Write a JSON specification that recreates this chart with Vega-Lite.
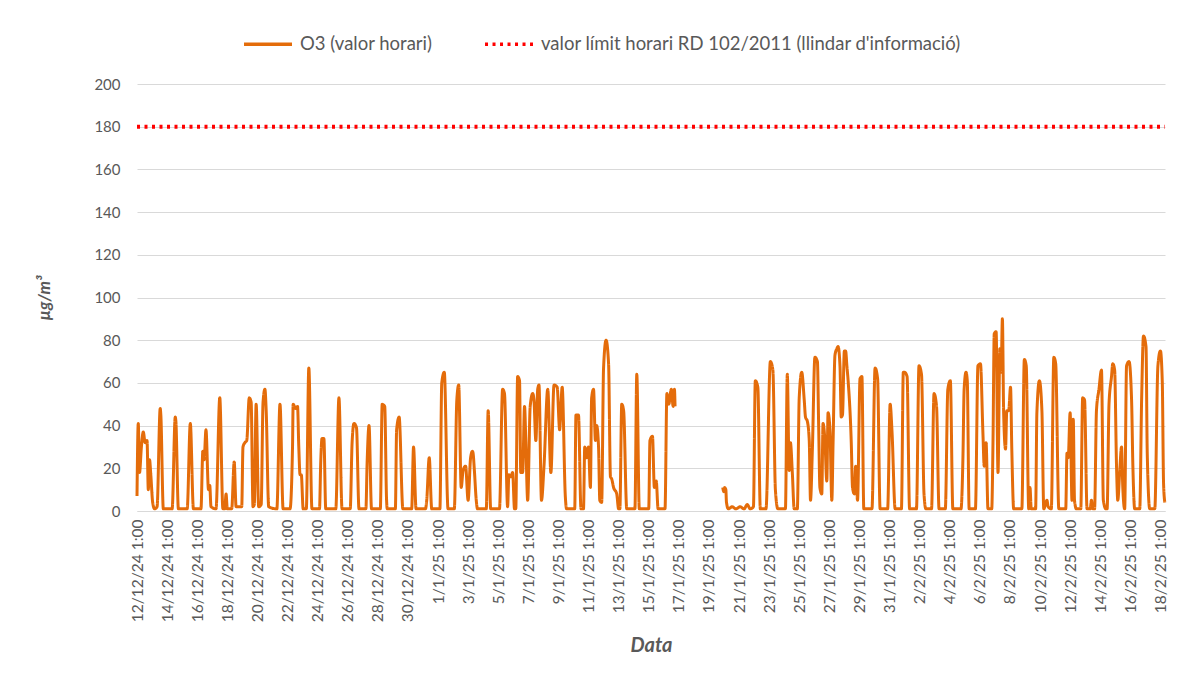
{
  "$schema": "https://vega.github.io/schema/vega-lite/v6.json",
  "autosize": {"type": "none"},
  "width": 1028,
  "height": 427,
  "padding": {"left": 137, "top": 84, "right": 19, "bottom": 170},
  "background": "white",
  "config": {
    "view": {"stroke": null},
    "font": "Lato",
    "axis": {"labelFont": "Lato", "titleFont": "Lato", "labelColor": "#595959", "titleColor": "#595959"},
    "legend": {"labelFont": "Lato"}
  },
  "datasets": {
    "o3": [
      {"t":"2024-12-12T01:00","v":7,"g":1},{"t":"2024-12-12T03:00","v":41,"g":1},{"t":"2024-12-12T05:00","v":18,"g":1},{"t":"2024-12-12T08:00","v":30,"g":1},{"t":"2024-12-12T11:00","v":37,"g":1},{"t":"2024-12-12T14:00","v":32,"g":1},{"t":"2024-12-12T17:00","v":33,"g":1},{"t":"2024-12-12T19:00","v":10,"g":1},{"t":"2024-12-12T21:00","v":24,"g":1},{"t":"2024-12-12T23:00","v":17,"g":1},
      {"t":"2024-12-13T02:00","v":4,"g":1},{"t":"2024-12-13T05:00","v":1,"g":1},{"t":"2024-12-13T09:00","v":2,"g":1},{"t":"2024-12-13T14:00","v":48,"g":1},{"t":"2024-12-13T15:00","v":45,"g":1},{"t":"2024-12-13T19:00","v":1,"g":1},
      {"t":"2024-12-14T09:00","v":1,"g":1},{"t":"2024-12-14T14:00","v":44,"g":1},{"t":"2024-12-14T15:00","v":42,"g":1},{"t":"2024-12-14T19:00","v":1,"g":1},
      {"t":"2024-12-15T09:00","v":1,"g":1},{"t":"2024-12-15T14:00","v":41,"g":1},{"t":"2024-12-15T19:00","v":1,"g":1},
      {"t":"2024-12-16T07:00","v":1,"g":1},{"t":"2024-12-16T10:00","v":28,"g":1},{"t":"2024-12-16T12:00","v":24,"g":1},{"t":"2024-12-16T15:00","v":38,"g":1},{"t":"2024-12-16T19:00","v":10,"g":1},{"t":"2024-12-16T21:00","v":12,"g":1},{"t":"2024-12-16T23:00","v":2,"g":1},
      {"t":"2024-12-17T07:00","v":1,"g":1},{"t":"2024-12-17T13:00","v":53,"g":1},{"t":"2024-12-17T18:00","v":1,"g":1},{"t":"2024-12-17T21:00","v":1,"g":1},{"t":"2024-12-17T23:00","v":8,"g":1},
      {"t":"2024-12-18T01:00","v":1,"g":1},{"t":"2024-12-18T08:00","v":1,"g":1},{"t":"2024-12-18T12:00","v":23,"g":1},{"t":"2024-12-18T15:00","v":2,"g":1},
      {"t":"2024-12-19T00:00","v":2,"g":1},{"t":"2024-12-19T02:00","v":30,"g":1},{"t":"2024-12-19T05:00","v":32,"g":1},{"t":"2024-12-19T08:00","v":33,"g":1},{"t":"2024-12-19T12:00","v":53,"g":1},{"t":"2024-12-19T15:00","v":51,"g":1},{"t":"2024-12-19T18:00","v":2,"g":1},{"t":"2024-12-19T20:00","v":3,"g":1},{"t":"2024-12-19T23:00","v":50,"g":1},
      {"t":"2024-12-20T03:00","v":2,"g":1},{"t":"2024-12-20T07:00","v":3,"g":1},{"t":"2024-12-20T10:00","v":51,"g":1},{"t":"2024-12-20T13:00","v":57,"g":1},{"t":"2024-12-20T15:00","v":47,"g":1},{"t":"2024-12-20T19:00","v":2,"g":1},
      {"t":"2024-12-21T08:00","v":1,"g":1},{"t":"2024-12-21T13:00","v":50,"g":1},{"t":"2024-12-21T18:00","v":1,"g":1},
      {"t":"2024-12-22T05:00","v":1,"g":1},{"t":"2024-12-22T09:00","v":30,"g":1},{"t":"2024-12-22T10:00","v":50,"g":1},{"t":"2024-12-22T14:00","v":48,"g":1},{"t":"2024-12-22T17:00","v":49,"g":1},{"t":"2024-12-22T19:00","v":30,"g":1},{"t":"2024-12-22T21:00","v":17,"g":1},{"t":"2024-12-22T23:00","v":17,"g":1},
      {"t":"2024-12-23T02:00","v":1,"g":1},{"t":"2024-12-23T07:00","v":1,"g":1},{"t":"2024-12-23T11:00","v":67,"g":1},{"t":"2024-12-23T16:00","v":1,"g":1},
      {"t":"2024-12-24T04:00","v":1,"g":1},{"t":"2024-12-24T06:00","v":23,"g":1},{"t":"2024-12-24T08:00","v":34,"g":1},{"t":"2024-12-24T11:00","v":34,"g":1},{"t":"2024-12-24T14:00","v":1,"g":1},
      {"t":"2024-12-25T06:00","v":1,"g":1},{"t":"2024-12-25T11:00","v":53,"g":1},{"t":"2024-12-25T16:00","v":1,"g":1},
      {"t":"2024-12-26T05:00","v":1,"g":1},{"t":"2024-12-26T08:00","v":32,"g":1},{"t":"2024-12-26T11:00","v":41,"g":1},{"t":"2024-12-26T15:00","v":39,"g":1},{"t":"2024-12-26T19:00","v":1,"g":1},
      {"t":"2024-12-27T06:00","v":1,"g":1},{"t":"2024-12-27T08:00","v":23,"g":1},{"t":"2024-12-27T11:00","v":40,"g":1},{"t":"2024-12-27T15:00","v":1,"g":1},
      {"t":"2024-12-28T05:00","v":1,"g":1},{"t":"2024-12-28T08:00","v":50,"g":1},{"t":"2024-12-28T12:00","v":49,"g":1},{"t":"2024-12-28T15:00","v":5,"g":1},{"t":"2024-12-28T16:00","v":1,"g":1},
      {"t":"2024-12-29T05:00","v":1,"g":1},{"t":"2024-12-29T07:00","v":38,"g":1},{"t":"2024-12-29T11:00","v":44,"g":1},{"t":"2024-12-29T17:00","v":1,"g":1},
      {"t":"2024-12-30T07:00","v":1,"g":1},{"t":"2024-12-30T10:00","v":30,"g":1},{"t":"2024-12-30T14:00","v":1,"g":1},
      {"t":"2024-12-31T05:00","v":1,"g":1},{"t":"2024-12-31T07:00","v":5,"g":1},{"t":"2024-12-31T11:00","v":25,"g":1},{"t":"2024-12-31T15:00","v":1,"g":1},
      {"t":"2025-01-01T04:00","v":1,"g":1},{"t":"2025-01-01T07:00","v":60,"g":1},{"t":"2025-01-01T11:00","v":65,"g":1},{"t":"2025-01-01T17:00","v":1,"g":1},
      {"t":"2025-01-02T03:00","v":1,"g":1},{"t":"2025-01-02T07:00","v":52,"g":1},{"t":"2025-01-02T10:00","v":59,"g":1},{"t":"2025-01-02T14:00","v":11,"g":1},{"t":"2025-01-02T17:00","v":19,"g":1},{"t":"2025-01-02T21:00","v":21,"g":1},
      {"t":"2025-01-03T01:00","v":5,"g":1},{"t":"2025-01-03T05:00","v":25,"g":1},{"t":"2025-01-03T08:00","v":28,"g":1},{"t":"2025-01-03T09:00","v":27,"g":1},{"t":"2025-01-03T11:00","v":19,"g":1},{"t":"2025-01-03T14:00","v":5,"g":1},{"t":"2025-01-03T16:00","v":1,"g":1},
      {"t":"2025-01-04T06:00","v":1,"g":1},{"t":"2025-01-04T09:00","v":47,"g":1},{"t":"2025-01-04T13:00","v":1,"g":1},
      {"t":"2025-01-05T03:00","v":1,"g":1},{"t":"2025-01-05T08:00","v":57,"g":1},{"t":"2025-01-05T11:00","v":55,"g":1},{"t":"2025-01-05T16:00","v":2,"g":1},{"t":"2025-01-05T18:00","v":17,"g":1},{"t":"2025-01-05T21:00","v":16,"g":1},
      {"t":"2025-01-06T00:00","v":18,"g":1},{"t":"2025-01-06T03:00","v":1,"g":1},{"t":"2025-01-06T05:00","v":1,"g":1},{"t":"2025-01-06T08:00","v":63,"g":1},{"t":"2025-01-06T11:00","v":61,"g":1},{"t":"2025-01-06T13:00","v":18,"g":1},{"t":"2025-01-06T16:00","v":18,"g":1},{"t":"2025-01-06T19:00","v":49,"g":1},{"t":"2025-01-06T21:00","v":33,"g":1},
      {"t":"2025-01-07T00:00","v":5,"g":1},{"t":"2025-01-07T04:00","v":49,"g":1},{"t":"2025-01-07T08:00","v":55,"g":1},{"t":"2025-01-07T10:00","v":52,"g":1},{"t":"2025-01-07T13:00","v":33,"g":1},{"t":"2025-01-07T16:00","v":57,"g":1},{"t":"2025-01-07T18:00","v":59,"g":1},{"t":"2025-01-07T22:00","v":5,"g":1},
      {"t":"2025-01-08T02:00","v":21,"g":1},{"t":"2025-01-08T08:00","v":57,"g":1},{"t":"2025-01-08T13:00","v":18,"g":1},{"t":"2025-01-08T18:00","v":59,"g":1},{"t":"2025-01-08T23:00","v":58,"g":1},
      {"t":"2025-01-09T03:00","v":38,"g":1},{"t":"2025-01-09T04:00","v":42,"g":1},{"t":"2025-01-09T07:00","v":58,"g":1},{"t":"2025-01-09T12:00","v":7,"g":1},{"t":"2025-01-09T14:00","v":1,"g":1},
      {"t":"2025-01-10T03:00","v":1,"g":1},{"t":"2025-01-10T05:00","v":45,"g":1},{"t":"2025-01-10T09:00","v":45,"g":1},{"t":"2025-01-10T13:00","v":1,"g":1},{"t":"2025-01-10T17:00","v":1,"g":1},{"t":"2025-01-10T19:00","v":30,"g":1},{"t":"2025-01-10T22:00","v":25,"g":1},
      {"t":"2025-01-11T01:00","v":30,"g":1},{"t":"2025-01-11T04:00","v":11,"g":1},{"t":"2025-01-11T06:00","v":53,"g":1},{"t":"2025-01-11T09:00","v":57,"g":1},{"t":"2025-01-11T12:00","v":33,"g":1},{"t":"2025-01-11T14:00","v":40,"g":1},{"t":"2025-01-11T17:00","v":30,"g":1},{"t":"2025-01-11T19:00","v":5,"g":1},{"t":"2025-01-11T22:00","v":4,"g":1},
      {"t":"2025-01-12T01:00","v":67,"g":1},{"t":"2025-01-12T05:00","v":80,"g":1},{"t":"2025-01-12T09:00","v":69,"g":1},{"t":"2025-01-12T12:00","v":16,"g":1},{"t":"2025-01-12T14:00","v":15,"g":1},{"t":"2025-01-12T17:00","v":11,"g":1},{"t":"2025-01-12T22:00","v":8,"g":1},
      {"t":"2025-01-13T01:00","v":1,"g":1},{"t":"2025-01-13T03:00","v":1,"g":1},{"t":"2025-01-13T06:00","v":50,"g":1},{"t":"2025-01-13T09:00","v":47,"g":1},{"t":"2025-01-13T14:00","v":1,"g":1},
      {"t":"2025-01-14T03:00","v":1,"g":1},{"t":"2025-01-14T06:00","v":64,"g":1},{"t":"2025-01-14T10:00","v":1,"g":1},
      {"t":"2025-01-15T01:00","v":1,"g":1},{"t":"2025-01-15T03:00","v":33,"g":1},{"t":"2025-01-15T07:00","v":35,"g":1},{"t":"2025-01-15T10:00","v":11,"g":1},{"t":"2025-01-15T13:00","v":14,"g":1},{"t":"2025-01-15T16:00","v":1,"g":1},
      {"t":"2025-01-16T03:00","v":1,"g":1},{"t":"2025-01-16T06:00","v":55,"g":1},{"t":"2025-01-16T09:00","v":50,"g":1},{"t":"2025-01-16T13:00","v":57,"g":1},{"t":"2025-01-16T16:00","v":49,"g":1},{"t":"2025-01-16T18:00","v":57,"g":1},{"t":"2025-01-16T19:00","v":49,"g":1},
      {"t":"2025-01-19T23:00","v":11,"g":2},{"t":"2025-01-20T01:00","v":9,"g":2},{"t":"2025-01-20T02:00","v":11,"g":2},{"t":"2025-01-20T04:00","v":10,"g":2},{"t":"2025-01-20T05:00","v":4,"g":2},{"t":"2025-01-20T08:00","v":1,"g":2},{"t":"2025-01-20T14:00","v":2,"g":2},{"t":"2025-01-20T20:00","v":1,"g":2},
      {"t":"2025-01-21T03:00","v":2,"g":2},{"t":"2025-01-21T09:00","v":1,"g":2},{"t":"2025-01-21T14:00","v":3,"g":2},{"t":"2025-01-21T19:00","v":1,"g":2},
      {"t":"2025-01-22T00:00","v":2,"g":2},{"t":"2025-01-22T03:00","v":61,"g":2},{"t":"2025-01-22T07:00","v":58,"g":2},{"t":"2025-01-22T11:00","v":1,"g":2},{"t":"2025-01-22T20:00","v":1,"g":2},
      {"t":"2025-01-23T03:00","v":70,"g":2},{"t":"2025-01-23T07:00","v":66,"g":2},{"t":"2025-01-23T11:00","v":10,"g":2},{"t":"2025-01-23T15:00","v":1,"g":2},
      {"t":"2025-01-24T03:00","v":1,"g":2},{"t":"2025-01-24T06:00","v":64,"g":2},{"t":"2025-01-24T09:00","v":19,"g":2},{"t":"2025-01-24T11:00","v":32,"g":2},{"t":"2025-01-24T14:00","v":18,"g":2},{"t":"2025-01-24T17:00","v":1,"g":2},{"t":"2025-01-24T22:00","v":1,"g":2},
      {"t":"2025-01-25T01:00","v":53,"g":2},{"t":"2025-01-25T05:00","v":65,"g":2},{"t":"2025-01-25T09:00","v":52,"g":2},{"t":"2025-01-25T11:00","v":44,"g":2},{"t":"2025-01-25T14:00","v":42,"g":2},{"t":"2025-01-25T17:00","v":33,"g":2},{"t":"2025-01-25T19:00","v":5,"g":2},{"t":"2025-01-25T22:00","v":29,"g":2},
      {"t":"2025-01-26T02:00","v":72,"g":2},{"t":"2025-01-26T06:00","v":70,"g":2},{"t":"2025-01-26T08:00","v":40,"g":2},{"t":"2025-01-26T10:00","v":11,"g":2},{"t":"2025-01-26T13:00","v":8,"g":2},{"t":"2025-01-26T15:00","v":41,"g":2},{"t":"2025-01-26T18:00","v":33,"g":2},{"t":"2025-01-26T21:00","v":14,"g":2},{"t":"2025-01-26T23:00","v":46,"g":2},
      {"t":"2025-01-27T02:00","v":38,"g":2},{"t":"2025-01-27T05:00","v":5,"g":2},{"t":"2025-01-27T07:00","v":32,"g":2},{"t":"2025-01-27T10:00","v":73,"g":2},{"t":"2025-01-27T13:00","v":76,"g":2},{"t":"2025-01-27T15:00","v":77,"g":2},{"t":"2025-01-27T18:00","v":68,"g":2},{"t":"2025-01-27T20:00","v":44,"g":2},{"t":"2025-01-27T22:00","v":45,"g":2},
      {"t":"2025-01-28T01:00","v":75,"g":2},{"t":"2025-01-28T03:00","v":75,"g":2},{"t":"2025-01-28T05:00","v":68,"g":2},{"t":"2025-01-28T07:00","v":61,"g":2},{"t":"2025-01-28T12:00","v":32,"g":2},{"t":"2025-01-28T14:00","v":11,"g":2},{"t":"2025-01-28T17:00","v":8,"g":2},{"t":"2025-01-28T19:00","v":21,"g":2},{"t":"2025-01-28T22:00","v":5,"g":2},
      {"t":"2025-01-29T02:00","v":62,"g":2},{"t":"2025-01-29T05:00","v":63,"g":2},{"t":"2025-01-29T08:00","v":1,"g":2},{"t":"2025-01-29T21:00","v":1,"g":2},
      {"t":"2025-01-30T02:00","v":67,"g":2},{"t":"2025-01-30T06:00","v":62,"g":2},{"t":"2025-01-30T10:00","v":1,"g":2},{"t":"2025-01-30T22:00","v":1,"g":2},
      {"t":"2025-01-31T02:00","v":50,"g":2},{"t":"2025-01-31T05:00","v":37,"g":2},{"t":"2025-01-31T10:00","v":1,"g":2},{"t":"2025-01-31T20:00","v":1,"g":2},{"t":"2025-01-31T23:00","v":65,"g":2},
      {"t":"2025-02-01T01:00","v":65,"g":2},{"t":"2025-02-01T05:00","v":63,"g":2},{"t":"2025-02-01T09:00","v":1,"g":2},{"t":"2025-02-01T20:00","v":1,"g":2},
      {"t":"2025-02-02T00:00","v":68,"g":2},{"t":"2025-02-02T04:00","v":64,"g":2},{"t":"2025-02-02T08:00","v":8,"g":2},{"t":"2025-02-02T11:00","v":1,"g":2},{"t":"2025-02-02T20:00","v":1,"g":2},
      {"t":"2025-02-03T00:00","v":55,"g":2},{"t":"2025-02-03T04:00","v":49,"g":2},{"t":"2025-02-03T08:00","v":1,"g":2},{"t":"2025-02-03T18:00","v":1,"g":2},{"t":"2025-02-03T22:00","v":57,"g":2},
      {"t":"2025-02-04T02:00","v":61,"g":2},{"t":"2025-02-04T06:00","v":1,"g":2},{"t":"2025-02-04T19:00","v":1,"g":2},{"t":"2025-02-04T22:00","v":24,"g":2},
      {"t":"2025-02-05T00:00","v":57,"g":2},{"t":"2025-02-05T03:00","v":65,"g":2},{"t":"2025-02-05T05:00","v":61,"g":2},{"t":"2025-02-05T08:00","v":1,"g":2},{"t":"2025-02-05T18:00","v":1,"g":2},{"t":"2025-02-05T22:00","v":68,"g":2},
      {"t":"2025-02-06T02:00","v":69,"g":2},{"t":"2025-02-06T06:00","v":36,"g":2},{"t":"2025-02-06T08:00","v":21,"g":2},{"t":"2025-02-06T11:00","v":32,"g":2},{"t":"2025-02-06T14:00","v":1,"g":2},{"t":"2025-02-06T20:00","v":1,"g":2},{"t":"2025-02-06T22:00","v":32,"g":2},
      {"t":"2025-02-07T00:00","v":83,"g":2},{"t":"2025-02-07T03:00","v":84,"g":2},{"t":"2025-02-07T06:00","v":18,"g":2},{"t":"2025-02-07T09:00","v":76,"g":2},{"t":"2025-02-07T11:00","v":65,"g":2},{"t":"2025-02-07T13:00","v":90,"g":2},{"t":"2025-02-07T15:00","v":46,"g":2},{"t":"2025-02-07T18:00","v":29,"g":2},{"t":"2025-02-07T20:00","v":47,"g":2},{"t":"2025-02-07T23:00","v":47,"g":2},
      {"t":"2025-02-08T02:00","v":58,"g":2},{"t":"2025-02-08T04:00","v":29,"g":2},{"t":"2025-02-08T07:00","v":1,"g":2},{"t":"2025-02-08T20:00","v":1,"g":2},
      {"t":"2025-02-09T00:00","v":71,"g":2},{"t":"2025-02-09T03:00","v":68,"g":2},{"t":"2025-02-09T07:00","v":1,"g":2},{"t":"2025-02-09T09:00","v":11,"g":2},{"t":"2025-02-09T11:00","v":1,"g":2},{"t":"2025-02-09T18:00","v":1,"g":2},{"t":"2025-02-09T20:00","v":46,"g":2},
      {"t":"2025-02-10T00:00","v":61,"g":2},{"t":"2025-02-10T04:00","v":47,"g":2},{"t":"2025-02-10T07:00","v":1,"g":2},{"t":"2025-02-10T12:00","v":5,"g":2},{"t":"2025-02-10T14:00","v":2,"g":2},{"t":"2025-02-10T19:00","v":1,"g":2},{"t":"2025-02-10T23:00","v":72,"g":2},
      {"t":"2025-02-11T02:00","v":69,"g":2},{"t":"2025-02-11T07:00","v":1,"g":2},{"t":"2025-02-11T18:00","v":1,"g":2},{"t":"2025-02-11T20:00","v":27,"g":2},{"t":"2025-02-11T22:00","v":25,"g":2},
      {"t":"2025-02-12T01:00","v":46,"g":2},{"t":"2025-02-12T04:00","v":5,"g":2},{"t":"2025-02-12T06:00","v":43,"g":2},{"t":"2025-02-12T08:00","v":5,"g":2},{"t":"2025-02-12T11:00","v":1,"g":2},{"t":"2025-02-12T18:00","v":1,"g":2},{"t":"2025-02-12T21:00","v":53,"g":2},
      {"t":"2025-02-13T00:00","v":52,"g":2},{"t":"2025-02-13T04:00","v":1,"g":2},{"t":"2025-02-13T09:00","v":1,"g":2},{"t":"2025-02-13T11:00","v":5,"g":2},{"t":"2025-02-13T13:00","v":1,"g":2},{"t":"2025-02-13T16:00","v":1,"g":2},{"t":"2025-02-13T19:00","v":47,"g":2},{"t":"2025-02-13T23:00","v":57,"g":2},
      {"t":"2025-02-14T03:00","v":66,"g":2},{"t":"2025-02-14T06:00","v":5,"g":2},{"t":"2025-02-14T10:00","v":1,"g":2},{"t":"2025-02-14T12:00","v":1,"g":2},{"t":"2025-02-14T15:00","v":50,"g":2},{"t":"2025-02-14T19:00","v":63,"g":2},{"t":"2025-02-14T21:00","v":69,"g":2},
      {"t":"2025-02-15T00:00","v":66,"g":2},{"t":"2025-02-15T03:00","v":21,"g":2},{"t":"2025-02-15T05:00","v":5,"g":2},{"t":"2025-02-15T08:00","v":18,"g":2},{"t":"2025-02-15T11:00","v":30,"g":2},{"t":"2025-02-15T13:00","v":11,"g":2},{"t":"2025-02-15T16:00","v":1,"g":2},{"t":"2025-02-15T19:00","v":68,"g":2},{"t":"2025-02-15T23:00","v":70,"g":2},
      {"t":"2025-02-16T03:00","v":52,"g":2},{"t":"2025-02-16T05:00","v":22,"g":2},{"t":"2025-02-16T08:00","v":1,"g":2},{"t":"2025-02-16T16:00","v":1,"g":2},{"t":"2025-02-16T19:00","v":52,"g":2},{"t":"2025-02-16T22:00","v":82,"g":2},
      {"t":"2025-02-17T02:00","v":77,"g":2},{"t":"2025-02-17T04:00","v":27,"g":2},{"t":"2025-02-17T08:00","v":1,"g":2},{"t":"2025-02-17T16:00","v":1,"g":2},{"t":"2025-02-17T21:00","v":68,"g":2},
      {"t":"2025-02-18T01:00","v":75,"g":2},{"t":"2025-02-18T04:00","v":60,"g":2},{"t":"2025-02-18T06:00","v":13,"g":2},{"t":"2025-02-18T08:00","v":4,"g":2}
    ],
    "limit": [
      {"t":"2024-12-12T01:00","v":180},
      {"t":"2025-02-18T08:18","v":180}
    ]
  },
  "encoding": {
    "x": {
      "field": "t",
      "type": "temporal",
      "scale": {"domain": [{"year":2024,"month":12,"date":12,"hours":1},{"year":2025,"month":2,"date":18,"hours":8,"minutes":18}]},
      "axis": {
        "title": "Data",
        "titleFontSize": 20,
        "titleFontWeight": "bold",
        "titleFontStyle": "italic",
        "titlePadding": 14,
        "format": "%-d/%-m/%y %-H:%M",
        "labelAngle": -90,
        "labelFontSize": 15.5,
        "labelPadding": 8,
        "labelOverlap": false,
        "labelBound": false,
        "labelFlush": false,
        "ticks": false,
        "grid": false,
        "domain": true,
        "domainColor": "#d9d9d9",
        "values": [
          {"year":2024,"month":12,"date":12,"hours":1},{"year":2024,"month":12,"date":14,"hours":1},{"year":2024,"month":12,"date":16,"hours":1},{"year":2024,"month":12,"date":18,"hours":1},{"year":2024,"month":12,"date":20,"hours":1},{"year":2024,"month":12,"date":22,"hours":1},{"year":2024,"month":12,"date":24,"hours":1},{"year":2024,"month":12,"date":26,"hours":1},{"year":2024,"month":12,"date":28,"hours":1},{"year":2024,"month":12,"date":30,"hours":1},
          {"year":2025,"month":1,"date":1,"hours":1},{"year":2025,"month":1,"date":3,"hours":1},{"year":2025,"month":1,"date":5,"hours":1},{"year":2025,"month":1,"date":7,"hours":1},{"year":2025,"month":1,"date":9,"hours":1},{"year":2025,"month":1,"date":11,"hours":1},{"year":2025,"month":1,"date":13,"hours":1},{"year":2025,"month":1,"date":15,"hours":1},{"year":2025,"month":1,"date":17,"hours":1},{"year":2025,"month":1,"date":19,"hours":1},{"year":2025,"month":1,"date":21,"hours":1},{"year":2025,"month":1,"date":23,"hours":1},{"year":2025,"month":1,"date":25,"hours":1},{"year":2025,"month":1,"date":27,"hours":1},{"year":2025,"month":1,"date":29,"hours":1},{"year":2025,"month":1,"date":31,"hours":1},
          {"year":2025,"month":2,"date":2,"hours":1},{"year":2025,"month":2,"date":4,"hours":1},{"year":2025,"month":2,"date":6,"hours":1},{"year":2025,"month":2,"date":8,"hours":1},{"year":2025,"month":2,"date":10,"hours":1},{"year":2025,"month":2,"date":12,"hours":1},{"year":2025,"month":2,"date":14,"hours":1},{"year":2025,"month":2,"date":16,"hours":1},{"year":2025,"month":2,"date":18,"hours":1}
        ]
      }
    },
    "y": {
      "field": "v",
      "type": "quantitative",
      "scale": {"domain": [0, 200], "nice": false},
      "axis": {
        "title": "µg/m³",
        "titleFontSize": 17,
        "titleFontWeight": "bold",
        "titleFontStyle": "italic",
        "titlePadding": 40,
        "values": [0,20,40,60,80,100,120,140,160,180,200],
        "labelFontSize": 15,
        "labelPadding": 17,
        "ticks": false,
        "domain": false,
        "grid": true,
        "gridColor": "#d9d9d9",
        "gridWidth": 1
      }
    },
    "color": {
      "type": "nominal",
      "scale": {"domain": ["O3 (valor horari)", "valor límit horari RD 102/2011 (llindar d'informació)"], "range": ["#E46C0A", "#FF0000"]},
      "legend": {
        "title": null,
        "orient": "none",
        "legendX": 105,
        "legendY": -66,
        "direction": "horizontal",
        "labelFontSize": 18.5,
        "labelColor": "#595959",
        "symbolType": "stroke",
        "symbolSize": 2300,
        "symbolStrokeWidth": 3.5,
        "labelOffset": 6,
        "columnPadding": 45,
        "labelLimit": 600
      }
    },
    "strokeDash": {
      "type": "nominal",
      "scale": {"domain": ["O3 (valor horari)", "valor límit horari RD 102/2011 (llindar d'informació)"], "range": [[1, 0], [3, 4.5]]},
      "legend": {
        "title": null,
        "orient": "none",
        "legendX": 105,
        "legendY": -66,
        "direction": "horizontal",
        "labelFontSize": 18.5,
        "labelColor": "#595959",
        "symbolType": "stroke",
        "symbolSize": 2300,
        "symbolStrokeWidth": 3.5,
        "labelOffset": 6,
        "columnPadding": 45,
        "labelLimit": 600
      }
    }
  },
  "layer": [
    {
      "data": {"name": "o3", "format": {"parse": {"t": "date"}}},
      "mark": {"type": "line", "strokeWidth": 3, "strokeJoin": "round", "interpolate": "monotone"},
      "encoding": {
        "detail": {"field": "g", "type": "nominal"},
        "color": {"datum": "O3 (valor horari)"},
        "strokeDash": {"datum": "O3 (valor horari)"}
      }
    },
    {
      "data": {"name": "limit", "format": {"parse": {"t": "date"}}},
      "mark": {"type": "line", "strokeWidth": 4},
      "encoding": {
        "color": {"datum": "valor límit horari RD 102/2011 (llindar d'informació)"},
        "strokeDash": {"datum": "valor límit horari RD 102/2011 (llindar d'informació)"}
      }
    }
  ]
}
